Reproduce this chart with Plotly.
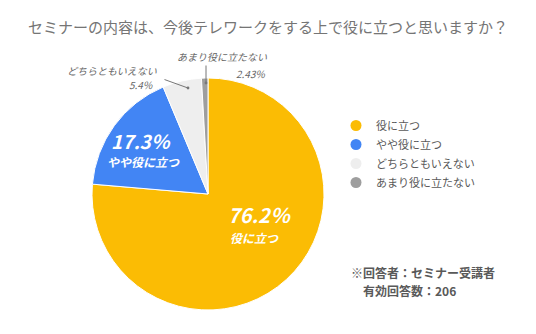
import plotly.graph_objects as go

categories = ["役に立つ", "やや役に立つ", "どちらともいえない", "あまり役に立たない"]
values = [76.2, 17.3, 5.4, 0.9]
pct_labels = ["76.2％", "17.3％", "5.4%", "2.43%"]
colors = ["#FBBC04", "#4285F4", "#EEEEEE", "#9E9E9E"]
title_text = "セミナーの内容は、今後テレワークをする上で役に立つと思いますか？"
note_lines = ["※回答者：セミナー受講者", "有効回答数：206"]

W, H = 536, 334
FONT = "Noto Sans CJK JP"

def px(x):
    return x / W

def py(y):
    return 1 - y / H

fig = go.Figure()
fig.add_trace(go.Pie(
    labels=categories, values=values, sort=False, direction="clockwise",
    rotation=0, marker=dict(colors=colors, line=dict(color="white", width=1)),
    textinfo="none", showlegend=False, hoverinfo="label+percent",
    domain=dict(x=[px(92), px(324)], y=[py(310), py(78)]),
))
for c, col in zip(categories, colors):
    fig.add_trace(go.Scatter(x=[None], y=[None], mode="markers", name=c,
                             marker=dict(symbol="circle", size=11, color=col)))

big = dict(family=FONT, size=20, color="white", weight="bold", style="italic")
big2 = dict(family=FONT, size=19, color="white", weight="bold", style="italic")
mid = dict(family=FONT, size=12, color="white", weight="bold", style="italic")
small = dict(family=FONT, size=10, color="#666666", style="italic")
ann = []
# inside labels
ann.append(dict(x=px(259), y=py(214), text=pct_labels[0], font=big))
ann.append(dict(x=px(254), y=py(238), text=categories[0], font=mid))
ann.append(dict(x=px(141), y=py(140), text=pct_labels[1], font=big2))
ann.append(dict(x=px(143), y=py(162), text=categories[1], font=mid))
# outside labels
ann.append(dict(x=px(112), y=py(71), text=categories[2], font=small))
ann.append(dict(x=px(141), y=py(84), text=pct_labels[2], font=small))
ann.append(dict(x=px(222), y=py(57), text=categories[3], font=small))
ann.append(dict(x=px(250), y=py(73), text=pct_labels[3], font=small))
# note
note_font = dict(family=FONT, size=12, color="#595959", weight="bold")
ann.append(dict(x=px(349), y=py(272), text=note_lines[0], xanchor="left", font=note_font))
ann.append(dict(x=px(361), y=py(290), text=note_lines[1], xanchor="left", font=note_font))

for a in ann:
    a.setdefault("xref", "paper")
    a.setdefault("yref", "paper")
    a.setdefault("xanchor", "center")
    a.setdefault("yanchor", "middle")
    a.setdefault("showarrow", False)

# leader lines with dot ends
lines = [((163, 79), (188, 88)), ((206, 64), (206, 83))]
for (x0, y0), (x1, y1) in lines:
    ann.append(dict(x=px(x1), y=py(y1), xref="paper", yref="paper",
                    ax=x0 - x1, ay=y0 - y1, text="", showarrow=True,
                    arrowhead=6, arrowsize=0.7, arrowwidth=1, arrowcolor="#777777"))

fig.update_layout(
    width=W, height=H, margin=dict(l=0, r=0, t=0, b=0),
    paper_bgcolor="white", plot_bgcolor="white",
    title=dict(text=title_text, x=0.5, xanchor="center", y=py(28), yanchor="middle",
               font=dict(family=FONT, size=15, color="#757575")),
    xaxis=dict(visible=False), yaxis=dict(visible=False),
    legend=dict(x=px(336), y=py(111), xanchor="left", yanchor="top",
                font=dict(family=FONT, size=11, color="#595959"), tracegroupgap=0),
    annotations=ann,
    font=dict(family=FONT),
)
fig.write_html("out.html")
